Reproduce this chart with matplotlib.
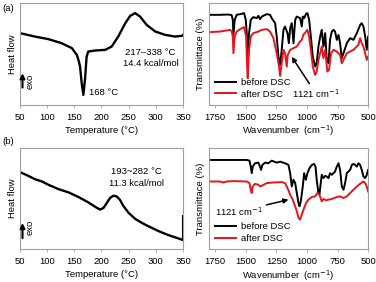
import matplotlib
matplotlib.use("Agg")
import matplotlib.pyplot as plt

# DSC (a): temperature (C) vs heat flow (a.u.)
dsc_a_T = [51, 78, 103, 127, 146, 155, 158, 161, 164, 167, 170, 173, 176, 188, 207,
           219, 231, 244, 253, 262, 271, 283, 299, 317, 335, 348, 350]
dsc_a_hf = [7.17, 6.83, 6.57, 6.17, 5.67, 5.0, 4.5, 3.83, 2.17, 1.0, 2.5, 4.83, 5.33,
            5.43, 5.5, 5.83, 6.83, 8.17, 8.9, 9.17, 8.83, 8.0, 7.33, 7.0, 6.83, 6.9, 7.0]

# DSC (b)
dsc_b_T = [51, 66, 78, 91, 103, 121, 140, 158, 176, 192, 198, 204, 210, 216, 222,
           228, 234, 240, 250, 262, 274, 286, 305, 323, 341, 350, 350]
dsc_b_hf = [7.77, 7.4, 7.07, 6.83, 6.5, 6.07, 5.73, 5.27, 4.73, 4.17, 4.0, 4.17, 4.67,
            5.17, 5.4, 5.33, 5.0, 4.4, 3.67, 3.07, 2.67, 2.33, 1.83, 1.43, 1.1, 0.93, 3.33]

# FTIR (a)
ir_a_before_w = [1800, 1710, 1642, 1615, 1606, 1601, 1590, 1574, 1533, 1514, 1500, 1492,
                 1484, 1473, 1459, 1438, 1410, 1397, 1383, 1369, 1328, 1301, 1288, 1260,
                 1247, 1233, 1219, 1206, 1192, 1179, 1159, 1148, 1137, 1124, 1110, 1096,
                 1083, 1056, 1042, 1034, 1023, 1007, 996, 982, 968, 952, 933, 920, 906,
                 892, 879, 865, 851, 838, 824, 811, 797, 783, 770, 756, 742, 729, 715,
                 701, 674, 647, 620, 592, 565, 552, 538, 524, 511, 500]
ir_a_before_t = [90, 90, 90.3, 89.7, 85, 70, 85, 90, 91, 91.7, 85, 71.7,
                 43.3, 71.7, 85, 87.7, 86.7, 89, 85.7, 88.3, 90.7, 90, 86.7, 81.7,
                 68.3, 48.3, 40, 55, 75, 78.3, 71.7, 61.7, 76.7, 81.7, 61.7, 85,
                 88.3, 86.7, 78.3, 88.3, 86.7, 91, 91.7, 85, 68.3, 48.3, 38.3, 41.7, 58.3,
                 68.3, 75, 58.3, 71.7, 45, 41.7, 65, 73.3, 75, 73.3, 65, 70, 61.7, 46.7,
                 51.7, 61.7, 66.7, 65, 71.7, 80, 81.7, 78.3, 68.3, 55, 68.3]
ir_a_after_w = [1800, 1710, 1628, 1615, 1606, 1601, 1590, 1574, 1533, 1514, 1497, 1489,
                1484, 1473, 1459, 1438, 1397, 1369, 1328, 1301, 1274, 1247, 1228, 1219,
                1206, 1192, 1179, 1165, 1157, 1137, 1110, 1083, 1056, 1042, 1029, 1007,
                996, 982, 968, 952, 933, 920, 906, 892, 879, 865, 851, 833, 819, 803,
                783, 756, 729, 715, 701, 674, 620, 579, 565, 552, 538, 511, 500]
ir_a_after_t = [72.7, 73.3, 75, 73.3, 68.3, 51.7, 68.3, 73.3, 76.7, 77.7, 68.3, 38.3,
                26.7, 55, 68.3, 71.7, 73.3, 75, 75.7, 73.3, 66.7, 51.7, 38.3, 29,
                41.7, 55, 51.7, 38.3, 50, 55, 56.7, 58.3, 63.3, 65, 70, 73.3,
                75, 68.3, 55, 38.3, 30, 33.3, 45, 51.7, 58.3, 46.7, 55, 33.3, 35, 51.7,
                55, 53.3, 50, 41.7, 45, 51.7, 55, 60, 66.7, 61.7, 58.3, 45, 48.3]

# FTIR (b)
ir_b_before_w = [1800, 1601, 1492, 1470, 1459, 1451, 1443, 1424, 1397, 1383, 1375, 1364,
                 1342, 1315, 1288, 1247, 1219, 1179, 1151, 1137, 1124, 1110, 1096, 1083,
                 1069, 1061, 1050, 1034, 1023, 1009, 996, 979, 960, 941, 930, 920, 906,
                 898, 887, 879, 865, 851, 838, 824, 811, 797, 770, 756, 742, 729, 715,
                 701, 688, 674, 661, 647, 633, 620, 606, 592, 579, 565, 552, 538, 524,
                 511, 500]
ir_b_before_t = [90, 90, 90, 89.3, 83.3, 76.7, 83.3, 86.7, 87.3, 83.3, 80, 85,
                 87.3, 86.7, 89.3, 87.3, 88.3, 86.7, 85, 76.7, 63.3, 70, 66.7, 56.7,
                 46.7, 43.3, 48.3, 63.3, 76.7, 70, 76.7, 81.7, 85, 86, 83.3, 70, 56.7,
                 55, 66.7, 75, 71.7, 74, 73.3, 71.7, 76.7, 75, 78.3, 83.3, 86.7, 80, 63.3,
                 60, 66.7, 76.7, 78.3, 80, 85, 86, 85, 83.3, 86.7, 85, 80, 73.3, 71.7,
                 75, 80]
ir_b_after_w = [1800, 1710, 1683, 1656, 1601, 1492, 1470, 1459, 1451, 1443, 1424, 1397,
                1383, 1369, 1328, 1274, 1206, 1179, 1159, 1137, 1116, 1096, 1083, 1069,
                1056, 1042, 1023, 1007, 988, 960, 933, 914, 898, 879, 865, 843, 824,
                797, 756, 729, 701, 674, 647, 620, 592, 565, 538, 524, 511, 500]
ir_b_after_t = [68.3, 68.3, 67.3, 68.3, 68.7, 68.3, 66.7, 60, 56.7, 63.3, 66, 65,
                63.3, 64, 66.7, 67.3, 67.7, 66.7, 61.7, 55, 50, 43.3, 38.3, 31.7,
                30, 35, 41.7, 46.7, 50, 52.7, 53.3, 56.7, 55, 48.3, 50.7, 49.3, 50,
                50.7, 52.7, 53.3, 51.7, 53.3, 56.7, 60, 63.3, 66, 68.3, 66.7, 63.3, 58.3]

temp_ticks = [50, 100, 150, 200, 250, 300, 350]
wn_ticks = [1750, 1500, 1250, 1000, 750, 500]

plt.rcParams['font.family'] = ['Liberation Sans', 'DejaVu Sans']
fs = 6.8
red = '#e8141b'
frame = '#a0a0a0'

fig = plt.figure(figsize=(3.76, 2.82), dpi=100)
ax_a = fig.add_axes([0.052, 0.628, 0.435, 0.362])
ax_ira = fig.add_axes([0.556, 0.628, 0.423, 0.362])
ax_b = fig.add_axes([0.052, 0.116, 0.435, 0.359])
ax_irb = fig.add_axes([0.556, 0.116, 0.423, 0.359])


def style(ax):
    for s in ax.spines.values():
        s.set_color(frame)
        s.set_linewidth(0.8)
    ax.set_yticks([])
    ax.tick_params(axis='x', direction='out', length=2, width=0.6, color=frame,
                   labelsize=fs, pad=3.5)


def dsc(ax, T, hf, ylim, label1, label2, lx, ly1, ly2, arr):
    ax.plot(T, hf, color='black', lw=1.7)
    ax.set_xlim(50, 350)
    ax.set_ylim(*ylim)
    ax.set_xticks(temp_ticks)
    ax.set_xlabel('Temperature (\u00b0C)', fontsize=fs, labelpad=3)
    ax.set_ylabel('Heat flow', fontsize=fs, labelpad=2)
    ax.text(lx, ly1, label1, fontsize=fs, ha='center', va='center')
    ax.text(lx, ly2, label2, fontsize=fs, ha='center', va='center')
    ax.annotate('', xy=(0.018, arr[1]), xytext=(0.018, arr[0]), xycoords='axes fraction',
                arrowprops=dict(arrowstyle='-|>', color='black', lw=1.5,
                                mutation_scale=7, shrinkA=0, shrinkB=0))
    ax.text(0.065, arr[2], 'exo', fontsize=fs, rotation=90,
            ha='center', va='center', transform=ax.transAxes)
    style(ax)


def ftir(ax, wb, tb, wa, ta, xy, xytext):
    ax.plot(wb, tb, color='black', lw=1.4, label='before DSC')
    ax.plot(wa, ta, color=red, lw=1.4, label='after DSC')
    ax.set_xlim(1800, 500)
    ax.set_ylim(0, 102)
    ax.set_xticks(wn_ticks)
    ax.set_xlabel('Wavenumber  (cm$^{-1}$)', fontsize=fs, labelpad=1.5)
    ax.set_ylabel('Transmittace (%)', fontsize=fs, labelpad=3)
    ax.annotate('1121 cm$^{-1}$', xy=xy, xytext=xytext, fontsize=fs,
                ha='center', va='center',
                arrowprops=dict(arrowstyle='-|>', color='black', lw=1.1,
                                mutation_scale=7, shrinkA=1, shrinkB=0))
    ax.legend(loc='lower left', frameon=False, fontsize=fs, handlelength=2.2,
              handletextpad=0.5, labelspacing=0.3, borderaxespad=0.25,
              bbox_to_anchor=(0.0, 0.0))
    style(ax)


dsc(ax_a, dsc_a_T, dsc_a_hf, (0, 10.2), '217\u2013338 \u00b0C', '14.4 kcal/mol',
    290, 5.23, 4.1, (0.17, 0.31, 0.23))
ax_a.text(177, 1.2, '168 \u00b0C', fontsize=fs, ha='left', va='center')

dsc(ax_b, dsc_b_T, dsc_b_hf, (0, 10.2), '193~282 \u00b0C', '11.3 kcal/mol',
    265, 7.83, 6.6, (0.11, 0.26, 0.215))

ftir(ax_ira, ir_a_before_w, ir_a_before_t, ir_a_after_w, ir_a_after_t,
     (1124, 48), (925, 11))
ftir(ax_irb, ir_b_before_w, ir_b_before_t, ir_b_after_w, ir_b_after_t,
     (1151, 50), (1560, 38))

fig.text(0.005, 0.985, '(a)', fontsize=fs, ha='left', va='top')
fig.text(0.005, 0.5, '(b)', fontsize=fs, ha='left', va='center')

fig.savefig('out.png', dpi=100)
